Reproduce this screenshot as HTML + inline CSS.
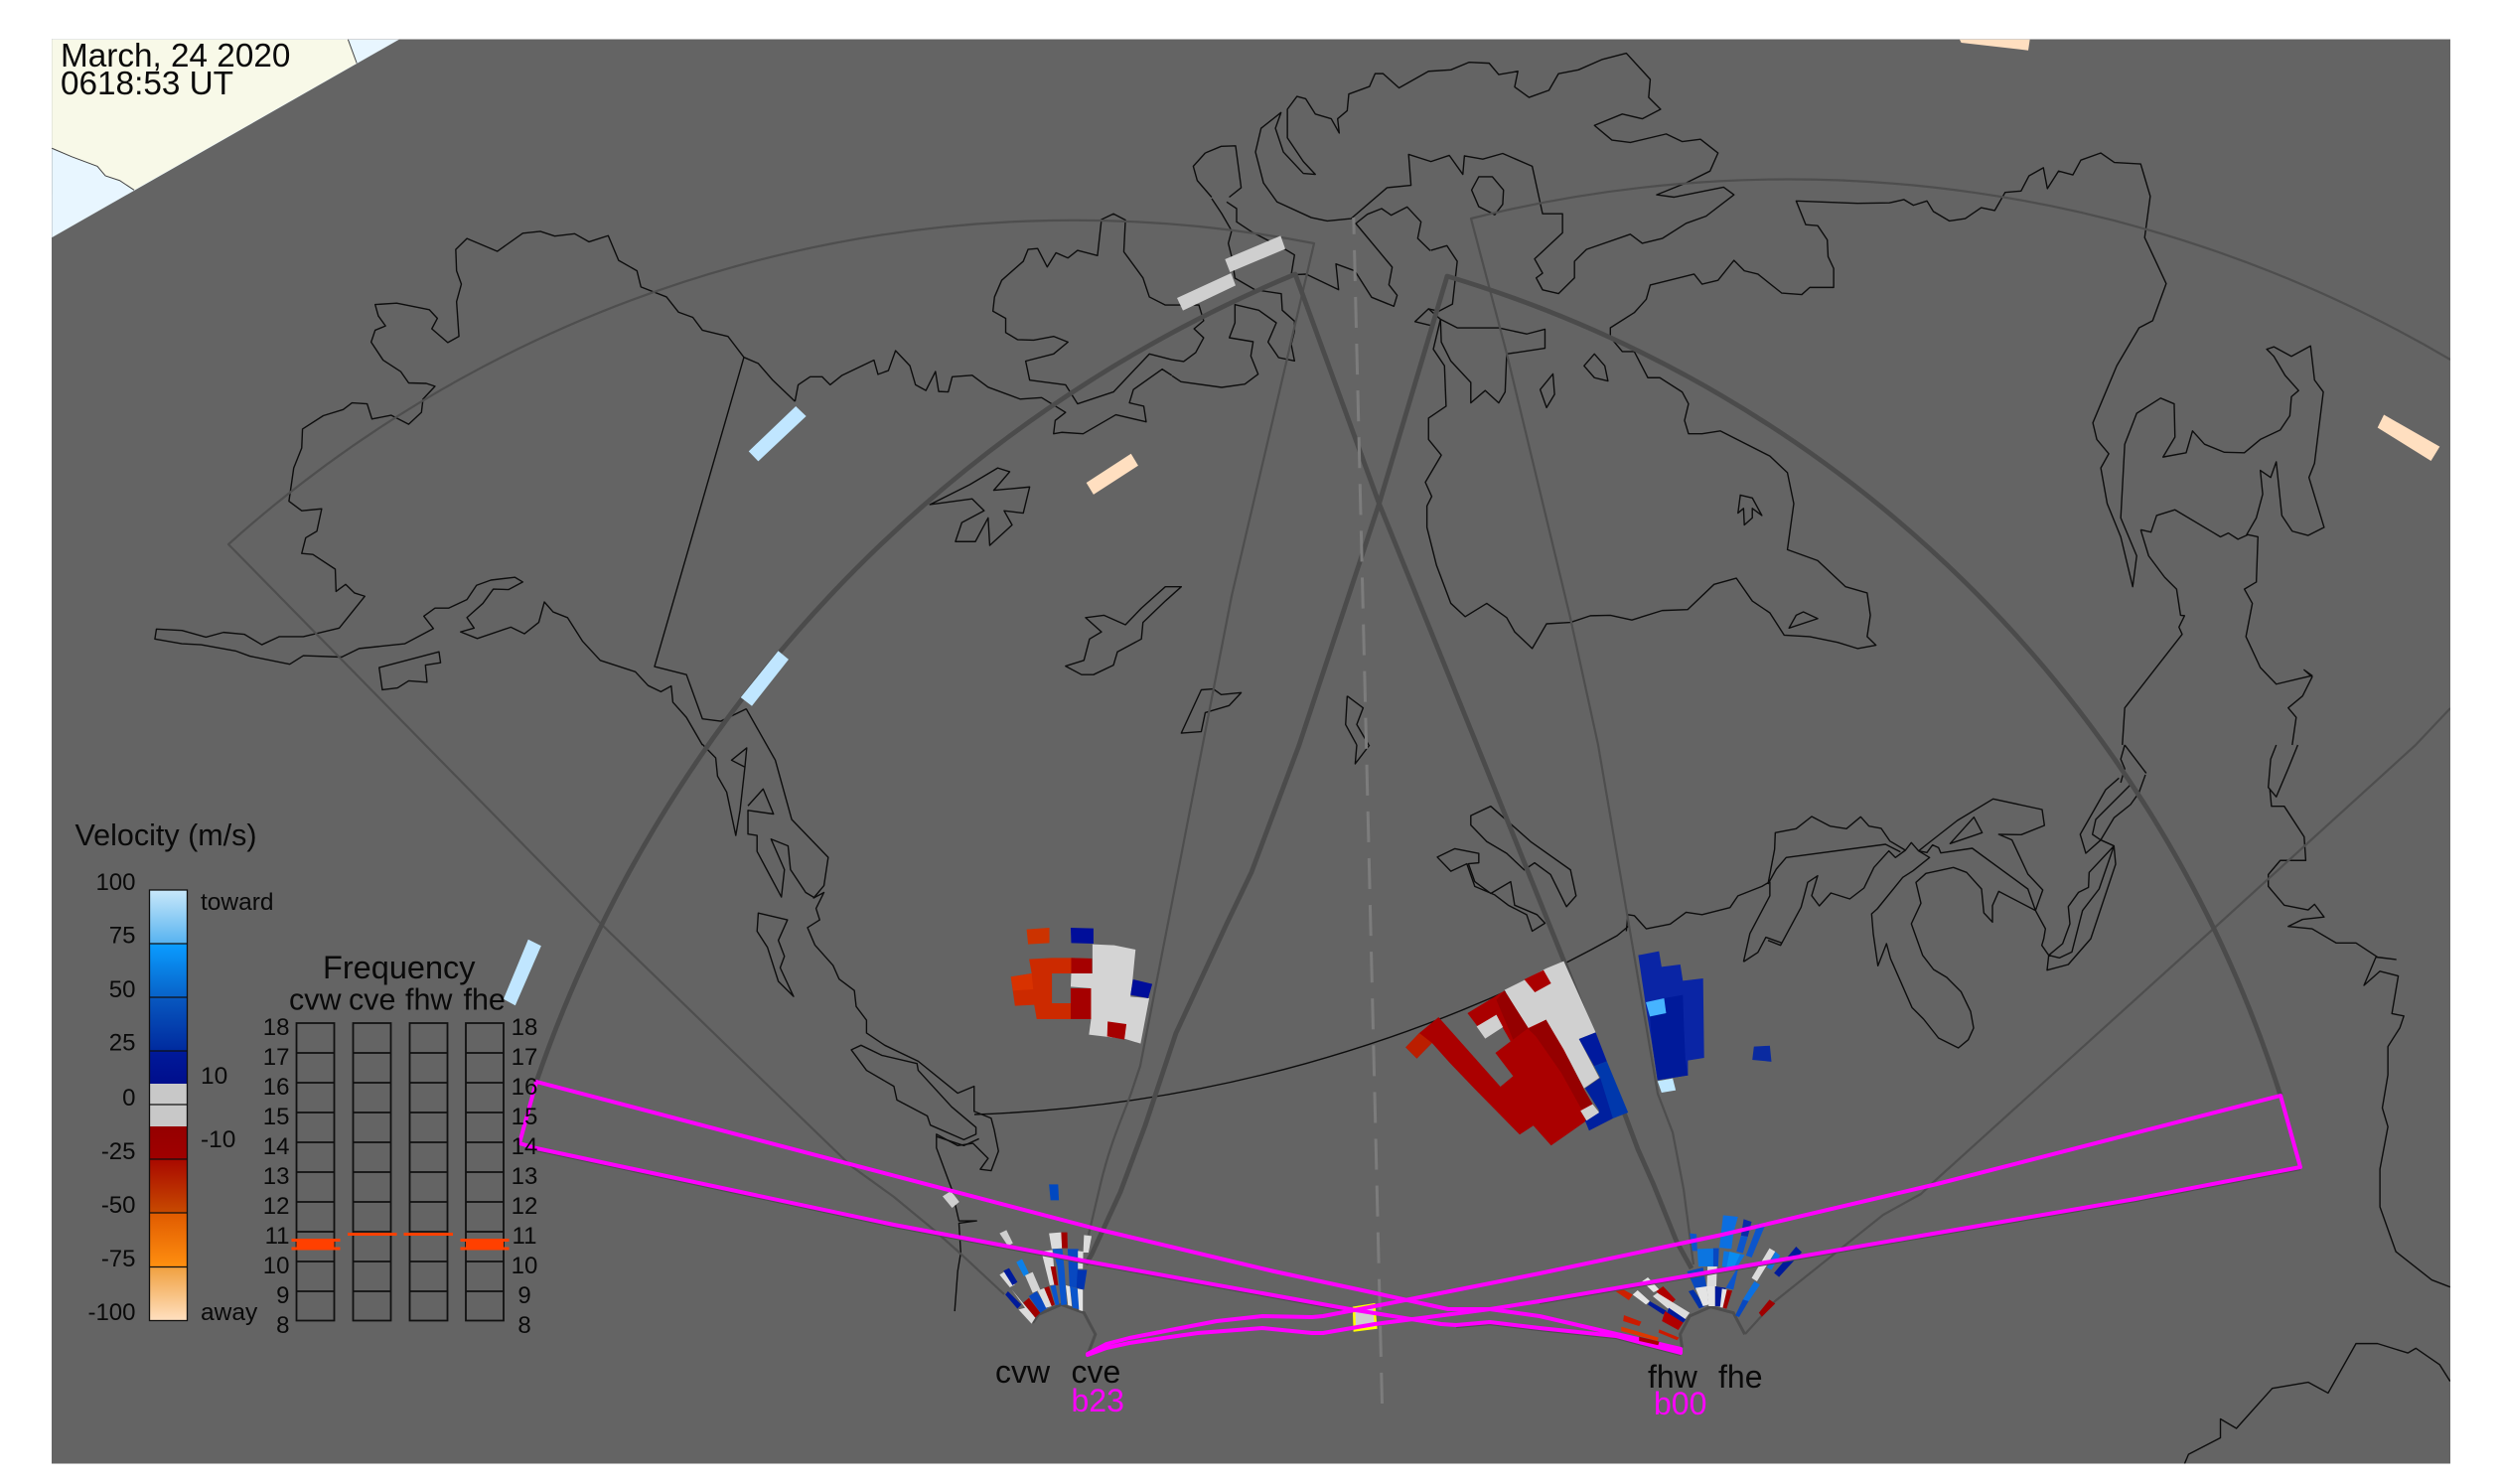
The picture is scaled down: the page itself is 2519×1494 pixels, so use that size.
<!DOCTYPE html>
<html><head><meta charset="utf-8"><style>
html,body{margin:0;padding:0;background:#fff}
svg{display:block}
text{font-family:"Liberation Sans",sans-serif;fill:#0a0a0a}
.c path{fill:none;stroke:#0d0d0d;stroke-width:1.4;stroke-linejoin:round;vector-effect:non-scaling-stroke}
.t path{fill:none;stroke:#4b4b4b;stroke-width:4.8;stroke-linejoin:round}
.n path{fill:none;stroke:#4e4e4e;stroke-width:2.2;stroke-linejoin:round}
</style></head><body>
<svg width="2519" height="1494" viewBox="0 0 2519 1494" xmlns="http://www.w3.org/2000/svg">
<defs>
<clipPath id="m"><rect x="52" y="39.5" width="2415" height="1434"/></clipPath>
<linearGradient id="cb" x1="0" y1="0" x2="0" y2="1">
<stop offset="0" stop-color="#c8e8fa"/><stop offset=".126" stop-color="#56b2f0"/>
<stop offset=".126" stop-color="#0a9cff"/><stop offset=".2496" stop-color="#0862c8"/>
<stop offset=".2496" stop-color="#0858c0"/><stop offset=".3748" stop-color="#002a9e"/>
<stop offset=".3748" stop-color="#001a9a"/><stop offset=".4497" stop-color="#000e8c"/>
<stop offset=".4497" stop-color="#c8c8c8"/><stop offset=".5494" stop-color="#c8c8c8"/>
<stop offset=".5494" stop-color="#950000"/><stop offset=".6243" stop-color="#a00000"/>
<stop offset=".6243" stop-color="#a80800"/><stop offset=".7496" stop-color="#c84a00"/>
<stop offset=".7496" stop-color="#e05a00"/><stop offset=".8757" stop-color="#ff9010"/>
<stop offset=".8757" stop-color="#f0a040"/><stop offset="1" stop-color="#ffe0c0"/>
</linearGradient>
</defs>
<rect width="2519" height="1494" fill="#fff"/>
<g clip-path="url(#m)">
<rect x="52" y="39.5" width="2415" height="1434" fill="#646464"/>
<!-- corner -->
<g transform="matrix(.8036 0 0 .4783 0 0)">
<polygon points="65,83 500,83 65,500" fill="#e8f6ff"/>
<polygon points="65,83 436,83 447,133 168,400 150,380 132,370 122,350 90,330 65,312" fill="#f8f9e8"/>
<path d="M436,83L447,133M168,400L150,380L132,370L122,350L90,330L65,312" fill="none" stroke="#444" stroke-width="1" vector-effect="non-scaling-stroke"/>
</g>

<!-- coast Z5 -->
<g class="c" transform="matrix(.8036 0 0 .4783 0 0)">
<path d="M996,845L968,800L950,765L932,752L912,708L880,695L868,668L850,657L835,625L803,604L798,570L775,548L762,496L738,509L720,492L695,497L677,487L655,491L623,529L585,502L571,525L572,570L578,598L572,635L575,708L561,721L541,692L548,670L538,652L497,638L470,641L474,665L483,686L470,695L465,720L480,758L502,782L512,806L534,807L545,813L530,840L528,868L512,893L490,874L466,882L460,850L441,848L430,862L405,875L379,903L378,943L368,985L362,1055L378,1075L403,1071L397,1118L383,1132L378,1165L392,1167L420,1198L421,1245L433,1230L444,1248L457,1255L425,1322L380,1340L350,1340L328,1357L306,1335L280,1331L258,1341L228,1327L196,1324L194,1345L228,1355L252,1357L295,1370L313,1381L363,1398L380,1380L428,1383L450,1365L507,1355L543,1323L531,1297L545,1280L562,1280L585,1262L597,1232L615,1221L645,1215L655,1225L637,1241L618,1240L605,1270L585,1300L594,1322L577,1330L598,1344L640,1320L657,1334L675,1310L682,1267L693,1288L711,1300L730,1350L752,1390L796,1414L812,1443L828,1456L841,1444L843,1478L860,1510L880,1568"/>
<path d="M932,752L820,1403L860,1420L880,1513L903,1518L935,1492"/>
<path d="M996,845L1000,810L1015,793L1030,793L1040,810L1055,790L1095,758L1100,788L1113,780L1122,738L1140,770L1147,810L1160,822L1172,782L1176,824L1188,825L1193,793L1218,790L1238,815L1278,840L1305,837L1335,868L1322,885L1320,913L1330,910L1357,913L1398,873L1436,888L1433,855L1415,848L1420,820L1456,777L1468,790"/>
<path d="M1350,850L1395,825L1440,745L1468,757L1483,761L1498,742L1508,711L1496,692L1508,675L1502,642L1460,642L1440,625L1432,585L1408,530L1410,463L1395,450L1380,462L1375,538L1350,527L1338,543L1323,532L1312,562L1300,523L1288,525L1282,550L1255,590L1246,625L1244,655L1260,670L1260,700L1275,715L1295,716L1320,708L1338,720L1320,745L1285,760L1290,800L1335,810L1350,850Z"/>
<path d="M1510,322L1530,308L1548,307L1555,395L1540,415"/>
<path d="M1510,322L1495,350L1500,380L1518,415"/>
<path d="M475,1405L550,1372L552,1395L533,1400L535,1436L512,1433L498,1448L479,1452Z"/>
<path d="M1165,1062L1215,1020L1250,985L1265,993L1245,1032L1290,1025L1282,1080L1258,1075L1268,1105L1240,1148L1238,1090L1222,1140L1197,1140L1205,1100L1233,1075L1218,1050Z"/>
<path d="M1335,1402L1358,1390L1365,1345L1380,1330L1360,1300L1383,1295L1410,1315L1430,1280L1460,1235L1480,1235L1460,1265L1432,1310L1430,1345L1400,1372L1395,1400L1370,1420L1355,1420Z"/>
<path d="M1480,1543L1505,1452L1520,1450L1530,1462L1555,1458L1540,1485L1510,1500L1505,1540Z"/>
</g>

<!-- coast zoom A -->
<g class="c" transform="matrix(.33333 0 0 .33333 1180 200)">
<path d="M0,535L27,553L150,570L220,560L260,530L238,475L245,432L173,420L190,375L190,320L262,337L315,375L290,433L322,480L370,490L360,440L370,400L370,370L333,337L330,287L250,275L190,240L180,175L170,135L180,97L150,45L120,0"/>
<path d="M165,10L195,30L195,70L240,100L345,155L370,170L360,230L405,228L503,275L495,197L552,218L603,298L670,325L680,292L655,260L665,207L555,75L590,47L633,30L662,50L710,25L752,70L742,120L780,157"/>
</g>

<!-- coast Z6 -->
<g class="c" transform="matrix(.8029 0 0 .4783 1260 0)">
<path d="M37,237L12,270L5,320L15,385L32,425L75,458L95,465L125,460L170,395L200,390L197,325L225,340L248,327L265,367L267,328L290,335L315,323L352,350L365,450L390,450L390,490L355,545L365,575L357,585L365,610L385,618L405,585L405,550L420,525L475,493L490,512L515,502L545,470L570,455L605,410L592,394L530,415L508,410L545,385L575,360L585,322L563,293L540,298L520,282L475,300L452,295L430,264L465,240L490,250L513,230L498,205L500,167L470,112L440,125L410,147L385,155L373,190L348,205L330,183L334,150L310,157L298,133L273,131L250,147L222,150L185,185L165,155L155,155L148,182L122,198L120,233L108,250L110,280L100,250L80,240L68,208L57,203L45,230L45,290L65,340L80,367L65,365L40,320L30,270Z"/>
<path d="M285,372L302,372L316,400L315,430L305,452L285,435L276,400Z"/>
<path d="M237,672L258,690L310,690L345,703L368,693L368,733L320,745L318,825L310,848L293,822L275,848L275,805L250,760L238,720L237,672L222,650L205,677L225,685"/>
<path d="M225,527L245,517L258,550L252,640L235,655L222,650"/>
<path d="M237,672L228,735L242,770L244,855L222,880L222,925L238,958L218,1015L226,1045L220,1065L220,1110L232,1190L250,1270L268,1298L295,1270L320,1300L330,1330L352,1365L370,1313L400,1310L425,1296L450,1295L477,1305L515,1285L547,1283L580,1230L608,1217L628,1265L650,1290L668,1337L700,1340L735,1352L760,1365L783,1358L772,1340L776,1295L772,1248L745,1235L710,1180L672,1157L680,1060L672,995L650,960L588,907L565,913L548,913L543,885L548,850L540,825L512,795L497,795L480,740L465,740L450,710L450,690L480,658L495,630L500,600L555,577L565,598L585,590L605,548L618,570L635,577L665,617L690,620L700,605L730,605L730,565L723,540L722,505L710,475L695,473L683,423L760,428L800,427L818,420L830,432L847,423L855,445L875,465L895,460L915,437L932,443L945,405L965,402L975,370L993,353L998,397L1012,360L1030,368L1040,337L1065,322L1082,342L1115,345L1127,413L1120,500L1147,597L1130,675L1113,690L1085,770L1055,890L1060,925L1075,955L1065,985L1073,1060L1090,1130L1105,1235L1110,1170L1090,1090L1095,935L1110,870L1140,838L1157,850L1158,920L1143,962L1172,953L1180,907L1195,935L1220,952L1245,953L1265,925L1290,905L1302,875L1304,835L1313,822L1296,790L1282,750L1273,735L1282,730L1304,750L1328,728L1333,800L1344,825L1333,975L1326,1005L1345,1110L1325,1127L1305,1118L1292,1085L1285,972L1278,1005L1265,990L1268,1040L1260,1090L1248,1125L1262,1130L1260,1225L1245,1240L1255,1270L1247,1340L1265,1405L1285,1440L1310,1430L1330,1422L1320,1410L1330,1425L1318,1465L1300,1490L1310,1510L1305,1568"/>
<path d="M1115,1115L1128,1120L1135,1085L1158,1073L1205,1120L1215,1130L1225,1122L1237,1135L1250,1125M1115,1115L1125,1170L1145,1215L1160,1240L1165,1295L1170,1296L1163,1320L1167,1335L1095,1490L1092,1568"/>
<path d="M417,770L430,745L443,770L447,802L430,795Z"/>
<path d="M362,820L378,787L380,830L370,858Z"/>
<path d="M610,1080L613,1042L628,1048L640,1085L628,1070L628,1090L618,1105L617,1070Z"/>
<path d="M674,1322L683,1295L692,1288L710,1302Z"/>
<path d="M120,1465L140,1490L132,1525L147,1568M120,1465L118,1525L132,1568"/>
</g>

<!-- coast Z7 -->
<g class="c" transform="matrix(.8029 0 0 .4745 1260 750)">
<path d="M148,0L130,40L132,0"/>
<path d="M275,150L300,130L320,160L350,205L400,265L407,320L395,343L375,275L355,250L342,265L320,230L295,205L275,170Z"/>
<path d="M233,238L255,220L285,230L285,250L272,252L280,290L300,315L325,290L330,340L358,360L368,378L352,395L345,360L322,340L305,318L280,300L270,252L250,268Z"/>
<path d="M470,395L472,360L480,362L495,390L525,380L545,355L565,360L600,345L610,320L640,300L650,290"/>
<path d="M617,460L635,440L645,408L665,420M617,460L625,400L650,320L650,290"/>
<path d="M1095,0L1122,60M1095,0L1090,30L1095,50L1090,80"/>
<path d="M1285,0L1278,30L1275,90L1285,110L1300,50L1312,0"/>
<path d="M1277,95L1279,130L1295,130L1320,195L1322,245L1290,245L1275,275L1275,300L1295,340L1325,350L1333,338L1345,365L1318,370L1300,385L1330,390L1360,420L1385,420L1412,450L1435,455L1410,450L1395,510L1415,480L1438,490L1430,570L1445,575L1440,600L1425,640L1425,700L1418,770L1425,810L1415,900L1415,980L1435,1075L1480,1135L1503,1150"/>
<path d="M1170,1525L1175,1505L1215,1470L1215,1430L1235,1450L1280,1365L1325,1352L1350,1375L1385,1270L1412,1270L1450,1290L1460,1280L1490,1315L1503,1350"/>
</g>

<!-- Great Lakes -->
<g class="c" transform="matrix(.33333 0 0 .33333 1780 780)">
<path d="M0,330L20,225L22,175L85,163L132,126L187,155L237,163L280,127L305,155L342,162L368,200L415,228"/>
<path d="M0,330L25,285L55,250L355,210L400,233"/>
<path d="M0,500L38,515L100,400L120,325L150,305L132,365L155,396L190,357L247,375L290,342L320,280L365,230L385,250L415,228L433,205L455,230L488,250L438,290L407,310L330,405L313,420L318,480L332,577L358,510L370,555L435,703L470,738L515,795L575,825L605,800L621,765L612,715L583,655L540,612L500,588L467,545L433,450L462,388L447,325L477,298L560,280L600,295L645,345L652,417L678,445L678,395L697,352L808,410L830,348L785,300L737,197L697,180L765,181L835,153L828,105L680,73L572,138L480,210L455,230L480,235L497,212L515,220L522,236L617,222L785,345L808,410L838,465L833,495L827,515L848,545L843,590L907,573L975,495L1050,270L1045,215L970,295L968,340L938,355L907,398L912,450L890,510L848,545L880,553L918,535L950,410L1000,345L1045,215L1005,197L980,180L990,135L1095,30L1085,0"/>
<path d="M1045,215L1005,197L960,237L943,180L1020,45L1060,10"/>
<path d="M1140,0L1120,55L1095,90L1045,130L1005,197"/>
<path d="M550,208L622,128L647,175Z"/>
</g>

<!-- coast Z8 -->
<g class="c" transform="matrix(.6122 0 0 .4592 300 600)">
<path d="M665,325L687,355L690,395L705,430L720,525L727,470L735,375L738,333L713,360L735,375"/>
<path d="M737,247L785,360L812,490L872,573L865,635L848,662L865,650L852,685L858,710L838,727L850,765L880,810L890,840L915,865L918,900L935,930L935,958L965,985L1020,1020L1085,1090L1112,1075L1112,1130L1140,1145L1145,1170L1152,1217L1140,1260L1122,1257L1135,1233L1110,1200L1085,1205L1050,1180L1050,1210L1075,1300L1087,1370L1116,1370L1087,1375L1090,1440L1085,1480L1080,1568"/>
<path d="M740,460L765,423L782,478L740,470L740,522L755,525L755,560L775,610L795,660L800,600L778,533L806,548L810,600L835,650L850,662"/>
<path d="M910,995L926,985L960,1007L1018,1025L1020,1040L1075,1120L1115,1165L1115,1180L1095,1192L1040,1160L1035,1140L985,1105L980,1075L935,1040Z"/>
<path d="M757,695L805,710L790,755L800,790L793,815L815,878L790,845L772,770L755,735Z"/>
<path d="M1050,1185L1095,1205L1120,1190"/>
</g>
<!-- border arc -->
<g class="c">
<path d="M981,1122A1430,1430 0 0 0 1628,942L1640,932"/>
</g>

<!-- thin FOV -->
<g class="n">
<path d="M1011,1303L967,1262L940,1238L900,1205L857,1174L606,931L230,548A1273,1273 0 0 1 1323,245L1240,600L1148,1073L1139,1100C1130,1125 1118,1150 1108,1192L1096,1243"/>
<path d="M1705,1273L1695,1197L1684,1140L1669,1101L1641,937L1609,750L1581,622L1517,356L1481,220A1314,1314 0 0 1 2467,362"/>
<path d="M2467,713L2432,750L2223,940L1950,1187L1934,1202L1896,1223L1787,1310L1757,1343"/>
</g>
<!-- thick FOV -->
<g class="t">
<path d="M540,1089A1360,1360 0 0 1 1304,276L1388.5,507L1487,750L1573,963.5L1637,1125L1649,1157L1665,1193L1688,1250L1703,1277"/>
<path d="M1093,1273L1099,1263L1128,1200L1153,1133L1164,1100L1184,1040L1235,930L1260,878L1308,750L1388.5,507L1457,278A1259,1259 0 0 1 2296,1103"/>
</g>
<path d="M1391.5,1413L1362.8,219" fill="none" stroke="#7c7c7c" stroke-width="3" stroke-dasharray="31.1 16"/>
<!-- radar arcs -->
<g fill="none" stroke="#4d4d4d" stroke-width="3">
<path transform="matrix(.3827 0 0 .3333 900 1140)" vector-effect="non-scaling-stroke" d="M510,670L530,610L500,545L440,520L380,550L365,575"/>
<path transform="matrix(.3827 0 0 .3333 1550 1140)" vector-effect="non-scaling-stroke" d="M375,650L370,610L395,555L450,527L510,545L540,610"/>
</g>

<!-- bars -->
<g transform="matrix(.8036 0 0 .4783 0 0)">
<polygon fill="#c0e6ff" points="997,855 1010,876 950,971 938,950"/>
<polygon fill="#c0e6ff" points="975,1370 988,1388 942,1486 928,1468"/>
<polygon fill="#ffdfc0" points="1417,955 1426,980 1370,1041 1361,1016"/>
</g>
<g transform="matrix(.33333 0 0 .33333 1180 200)" fill="#cfcfcf">
<polygon points="160,183 328,112 342,152 175,222"/>
<polygon points="15,300 178,225 192,262 33,338"/>
</g>
<g transform="matrix(.8029 0 0 .4783 1260 0)">
<polygon fill="#ffdfc0" points="888,83 976,83 974,106 890,90"/>
<polygon fill="#ffdfc0" points="1420,873 1490,940 1479,970 1412,900"/>
</g>
<polygon transform="matrix(.3954 0 0 .3827 0 780)" fill="#c0e6ff" points="1345,433 1378,450 1312,607 1282,590"/>

<!-- scatter Z4 -->
<g transform="matrix(.5102 0 0 .3333 980 900)">
<polygon fill="#cc3300" points="105,107 150,102 150,148 108,152"/>
<polygon fill="#000e9a" points="192,102 237,104 237,150 193,148"/>
<polygon fill="#d4d4d4" points="235,152 278,155 320,168 314,262 310,310 347,315 330,452 300,438 228,425 232,380 232,285 192,280 193,240 235,240"/>
<polygon fill="#cc2a00" points="110,197 155,193 195,193 234,195 234,240 155,240 155,330 192,330 192,285 232,285 232,378 192,378 125,378 120,335 82,338 74,250 115,240"/>
<polygon fill="#a50000" points="193,193 234,195 234,240 193,240"/>
<polygon fill="#a50000" points="192,285 232,285 232,378 192,378"/>
<polygon fill="#d83200" points="74,250 115,240 118,288 78,292"/>
<polygon fill="#000e9a" points="315,258 353,272 345,315 310,305"/>
<polygon fill="#a50000" points="265,385 302,393 298,440 264,430"/>
<polygon fill="#d0d0d0" points="1130,225 1165,203 1228,418 1195,438 1235,555 1205,587 1175,500 1130,380 1095,408 1048,290 1090,258"/>
<polygon fill="#aa0000" points="1087,258 1125,230 1140,270 1108,297"/>
<polygon fill="#aa0000" points="1048,292 1095,405 1130,380 1165,470 1205,590 1222,635 1200,660 1210,685 1140,760 1105,700 1078,727 990,590 940,510 905,450 875,497 853,463 880,420 918,372 940,410 1040,582 1065,550 1030,480 1060,445 1045,405 1032,365 995,400 975,360"/>
<polygon fill="#950000" points="1095,408 1130,380 1175,500 1205,590 1222,635 1200,650 1160,540 1110,430"/>
<polygon fill="#950000" points="1032,320 1048,292 1095,405 1065,440"/>
<polygon fill="#bb1e00" points="853,463 880,420 905,450 875,497"/>
<polygon fill="#d0d0d0" points="993,400 1032,365 1045,402 1010,437"/>
<polygon fill="#001a9e" points="1195,438 1228,418 1250,505 1225,520"/>
<polygon fill="#0038ac" points="1225,520 1250,505 1292,660 1262,678 1240,600 1237,555"/>
<polygon fill="#00209e" points="1207,587 1237,555 1262,678 1215,715 1207,685 1235,655"/>
<polygon fill="#d0d0d0" points="1198,655 1222,635 1235,660 1210,685"/>
<polygon fill="#0a25a5" points="1312,185 1353,173 1358,220 1395,213 1400,262 1440,255 1442,495 1410,503 1410,548 1350,562 1340,460 1330,370"/>
<polygon fill="#001a9a" points="1363,315 1400,305 1402,400 1405,500 1410,548 1350,562 1340,460 1335,370 1367,360"/>
<polygon fill="#46b4ff" points="1327,327 1363,315 1367,360 1335,370"/>
<polygon fill="#c0e8ff" points="1350,565 1380,557 1386,593 1358,600"/>
</g>
<polygon transform="matrix(.8029 0 0 .4745 1260 750)" fill="#0a2aa0" points="630,640 650,638 652,672 628,668"/>

<!-- fan Z2 -->
<g transform="matrix(.3827 0 0 .3333 900 1140)">
<polygon fill="#cfcfcf" points="128,193 150,177 172,210 153,228"/>
<polygon fill="#0048c0" points="408,157 432,157 434,205 412,205"/>
<polygon fill="#cfcfcf" points="278,305 296,295 313,335 300,343"/>
<polygon fill="#dcdcdc" points="408,305 440,302 443,350 415,352"/>
<polygon fill="#a00000" points="440,302 456,302 457,350 442,350"/>
<polygon fill="#dcdcdc" points="500,310 520,313 512,363 498,363"/>
<polygon fill="#0c80e8" points="322,392 337,382 355,425 342,435"/>
<polygon fill="#dcdcdc" points="278,430 292,420 318,460 305,468"/>
<polygon fill="#001a9a" points="288,418 303,410 325,452 312,462"/>
<polygon fill="#d4d4d4" points="345,432 365,422 385,475 365,485"/>
<polygon fill="#dcdcdc" points="388,360 417,355 425,460 410,462"/>
<polygon fill="#a00000" points="412,405 425,405 432,462 422,462"/>
<polygon fill="#0a55cc" points="417,352 443,352 448,405 455,520 440,522 430,405"/>
<polygon fill="#0848c0" points="457,352 485,352 485,410 480,470 462,465"/>
<polygon fill="#0033b0" points="483,415 508,415 500,475 480,470"/>
<polygon fill="#dcdcdc" points="484,358 498,360 497,412 484,412"/>
<polygon fill="#e4e4e4" points="452,462 463,465 468,525 458,522"/>
<polygon fill="#0a55cc" points="463,465 483,472 490,535 470,530"/>
<polygon fill="#e4e4e4" points="483,472 497,475 497,540 487,537"/>
<polygon fill="#dcdcdc" points="310,475 372,560 362,578 328,535 345,530"/>
<polygon fill="#001a9a" points="300,480 335,520 325,533 293,490"/>
<polygon fill="#a00000" points="355,500 385,545 372,560 340,515"/>
<polygon fill="#0848c0" points="355,495 375,480 405,530 385,545"/>
<polygon fill="#dcdcdc" points="378,478 397,470 415,525 400,530"/>
<polygon fill="#a00000" points="395,470 408,465 423,520 415,525"/>
<polygon fill="#0a55cc" points="412,465 425,460 435,520 425,522"/>
</g>
<!-- fan Z3 -->
<g transform="matrix(.3827 0 0 .3333 1550 1140)">
<polygon fill="#0c6ee0" points="483,250 522,255 510,305 478,300"/>
<polygon fill="#0c70e0" points="478,300 510,305 505,352 473,348"/>
<polygon fill="#0a2aa8" points="537,262 558,270 548,315 530,312"/>
<polygon fill="#0c55cc" points="530,312 548,315 535,365 518,360"/>
<polygon fill="#0c55cc" points="575,275 592,285 558,378 543,372"/>
<polygon fill="#0c55cc" points="395,305 413,307 415,358 402,358"/>
<polygon fill="#0c75e0" points="415,352 472,350 470,405 418,405"/>
<polygon fill="#0848c0" points="457,350 472,350 470,405 457,405"/>
<polygon fill="#0c75e0" points="485,358 540,370 515,415 480,405"/>
<polygon fill="#0a8cf0" points="500,360 528,368 510,412 492,408"/>
<polygon fill="#0c75e0" points="620,360 633,372 610,415 598,408"/>
<polygon fill="#dcdcdc" points="605,350 620,360 572,450 558,440"/>
<polygon fill="#001a9a" points="675,345 690,362 630,437 617,425"/>
<polygon fill="#0848c0" points="388,420 430,408 440,470 410,475"/>
<polygon fill="#dcdcdc" points="442,405 467,405 465,465 440,465"/>
<polygon fill="#0c55cc" points="490,470 525,400 510,475"/>
<polygon fill="#0030a8" points="392,480 405,475 435,525 420,532"/>
<polygon fill="#e4e4e4" points="410,470 440,465 445,520 430,525"/>
<polygon fill="#e4e4e4" points="440,465 462,465 462,525 445,525"/>
<polygon fill="#001a9a" points="462,465 490,470 478,525 462,525"/>
<polygon fill="#e4e4e4" points="480,472 493,475 485,530 475,528"/>
<polygon fill="#a00000" points="493,475 507,478 492,533 482,530"/>
<polygon fill="#0c70e0" points="565,450 580,460 550,510 535,505"/>
<polygon fill="#0848c0" points="535,505 550,510 525,558 515,553"/>
<polygon fill="#a00000" points="605,505 620,517 585,557 577,545"/>
<polygon fill="#e4e4e4" points="270,450 285,438 315,475 300,483"/>
<polygon fill="#e4e4e4" points="245,490 258,477 290,510 280,520"/>
<polygon fill="#001a9a" points="290,510 335,540 325,550 285,520"/>
<polygon fill="#cc2000" points="205,465 245,490 235,507 200,480"/>
<polygon fill="#b00000" points="307,480 325,465 358,505 343,520"/>
<polygon fill="#dcdcdc" points="298,495 310,485 395,545 382,565 335,530"/>
<polygon fill="#001a9a" points="340,530 385,565 378,575 335,545"/>
<polygon fill="#b00000" points="330,540 378,575 365,597 322,570"/>
<polygon fill="#cc1a00" points="222,552 268,572 262,585 220,570"/>
<polygon fill="#dd3800" points="215,587 313,620 310,630 215,600"/>
<polygon fill="#cc1a00" points="315,595 367,620 362,628 313,605"/>
</g>
<!-- center box -->
<g transform="matrix(.3827 0 0 .3333 900 1140)">
<polygon fill="#cfcfcf" stroke="#ffff00" stroke-width="2.5" vector-effect="non-scaling-stroke" points="1210,530 1263,520 1268,590 1212,598"/>
</g>
<!-- shadows under magenta -->
<g fill="none" stroke="#4e4e4e" stroke-width="3" transform="translate(0,1.6)">
<path d="M540,1156L900,1233L1095,1270L1359,1318"/>
<path d="M2316,1175L2150,1207L1550,1310"/>
<path d="M1466,1334L1500,1331L1550,1337L1627,1345L1692,1362"/>
</g>
<!-- magenta -->
<g fill="none" stroke="#ff00ff" stroke-width="4" stroke-linejoin="round">
<path d="M1692,1358L1550,1325L1500,1318L1458,1318L1390,1303L1283,1280L1107,1238L540,1089L523,1151L540,1156L900,1233L1095,1270L1359,1318L1390,1323L1451,1333L1466,1334L1500,1331L1550,1337L1627,1345L1692,1362Z"/>
<path d="M1095,1363L1114,1353L1137,1347L1225,1330L1271,1325L1321,1326L1332,1325L1384,1315L1500,1292L1550,1282L1734,1243L1950,1192L2296,1103L2316,1175L2150,1207L1550,1310L1500,1318L1384,1333L1332,1342L1321,1342L1271,1337L1206,1342L1137,1352L1114,1357L1095,1364Z"/>
</g>
<polygon transform="matrix(.3827 0 0 .3333 1550 1140)" fill="#a80000" points="262,617 315,632 312,643 262,630"/>
</g>

<!-- colorbar -->
<rect x="150.5" y="896" width="38" height="433.5" fill="url(#cb)" stroke="#111" stroke-width="1.3"/>
<g stroke="#111" stroke-width="1.3">
<path d="M150,950H189M150,1004H189M150,1058H189M150,1112H189M150,1167H189M150,1221H189M150,1275.5H189" fill="none"/>
</g>
<!-- frequency -->
<g fill="none" stroke="#111" stroke-width="1.8">
<path d="M298.5,1030V1329.5H336.5V1030ZM298.5,1060H336.5M298.5,1090H336.5M298.5,1120H336.5M298.5,1150H336.5M298.5,1180H336.5M298.5,1210H336.5M298.5,1240H336.5M298.5,1270H336.5M298.5,1300H336.5"/>
<path d="M355.5,1030V1329.5H393.5V1030ZM355.5,1060H393.5M355.5,1090H393.5M355.5,1120H393.5M355.5,1150H393.5M355.5,1180H393.5M355.5,1210H393.5M355.5,1240H393.5M355.5,1270H393.5M355.5,1300H393.5"/>
<path d="M412.5,1030V1329.5H450.5V1030ZM412.5,1060H450.5M412.5,1090H450.5M412.5,1120H450.5M412.5,1150H450.5M412.5,1180H450.5M412.5,1210H450.5M412.5,1240H450.5M412.5,1270H450.5M412.5,1300H450.5"/>
<path d="M469,1030V1329.5H507V1030ZM469,1060H507M469,1090H507M469,1120H507M469,1150H507M469,1180H507M469,1210H507M469,1240H507M469,1270H507M469,1300H507"/>
</g>
<g fill="#ff4000">
<rect x="298.5" y="1247" width="38" height="11.5"/><rect x="293.5" y="1247" width="49" height="3"/><rect x="293.5" y="1255.5" width="49" height="3"/>
<rect x="469" y="1247" width="38" height="11.5"/><rect x="463.5" y="1247" width="49" height="3"/><rect x="463.5" y="1255.5" width="49" height="3"/>
<rect x="350" y="1241" width="49.5" height="3"/><rect x="406.5" y="1241" width="49.5" height="3"/>
</g>

<!-- texts -->
<text x="61" y="67" font-size="33.3">March, 24 2020</text>
<text x="61" y="95" font-size="33.3">0618:53 UT</text>
<text x="75.5" y="851" font-size="30.5">Velocity (m/s)</text>
<g font-size="24" text-anchor="end">
<text x="136.5" y="896">100</text><text x="136.5" y="949.5">75</text><text x="136.5" y="1004">50</text><text x="136.5" y="1057.5">25</text><text x="136.5" y="1113">0</text><text x="136.5" y="1167">-25</text><text x="136.5" y="1221">-50</text><text x="136.5" y="1275">-75</text><text x="136.5" y="1329">-100</text>
</g>
<g font-size="24.5">
<text x="202" y="916">toward</text><text x="202" y="1091">10</text><text x="202" y="1155">-10</text><text x="202" y="1329">away</text>
</g>
<text x="325" y="985" font-size="32.5">Frequency</text>
<g font-size="30.5">
<text x="291" y="1016.5">cvw</text><text x="351" y="1016.5">cve</text><text x="408" y="1016.5">fhw</text><text x="466.5" y="1016.5">fhe</text>
</g>
<g font-size="24" text-anchor="end">
<text x="291.5" y="1042">18</text><text x="291.5" y="1072">17</text><text x="291.5" y="1102">16</text><text x="291.5" y="1132">15</text><text x="291.5" y="1162">14</text><text x="291.5" y="1192">13</text><text x="291.5" y="1222">12</text><text x="291.5" y="1252">11</text><text x="291.5" y="1282">10</text><text x="291.5" y="1312">9</text><text x="291.5" y="1342">8</text>
</g>
<g font-size="24" text-anchor="middle">
<text x="528" y="1042">18</text><text x="528" y="1072">17</text><text x="528" y="1102">16</text><text x="528" y="1132">15</text><text x="528" y="1162">14</text><text x="528" y="1192">13</text><text x="528" y="1222">12</text><text x="528" y="1252">11</text><text x="528" y="1282">10</text><text x="528" y="1312">9</text><text x="528" y="1342">8</text>
</g>
<g font-size="32">
<text x="1002" y="1392">cvw</text><text x="1078.5" y="1392">cve</text>
<text x="1659" y="1397">fhw</text><text x="1730" y="1397">fhe</text>
<text x="1078.5" y="1421" style="fill:#ff00ff">b23</text>
<text x="1665" y="1424" style="fill:#ff00ff">b00</text>
</g>
</svg>
</body></html>
